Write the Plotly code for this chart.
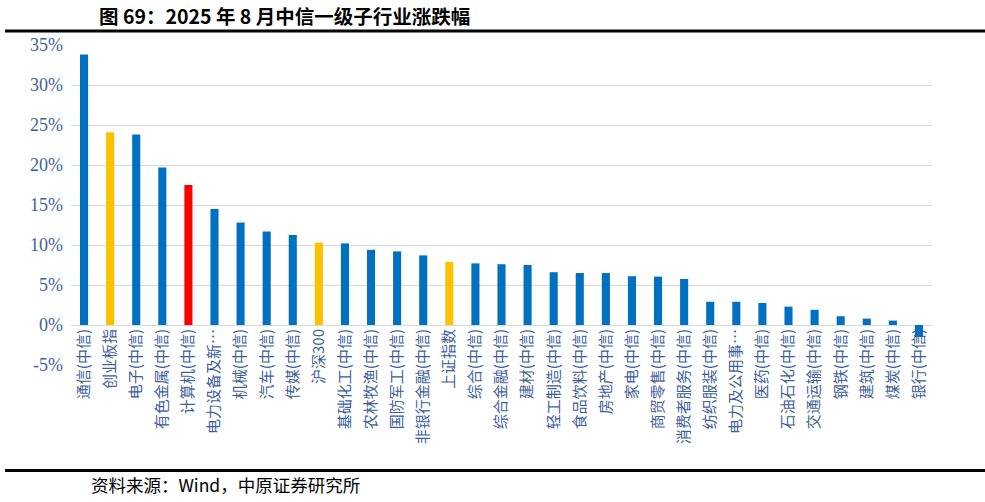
import plotly.graph_objects as go

categories = ["通信(中信)", "创业板指", "电子(中信)", "有色金属(中信)", "计算机(中信)", "电力设备及新…",
              "机械(中信)", "汽车(中信)", "传媒(中信)", "沪深300", "基础化工(中信)", "农林牧渔(中信)",
              "国防军工(中信)", "非银行金融(中信)", "上证指数", "综合(中信)", "综合金融(中信)", "建材(中信)",
              "轻工制造(中信)", "食品饮料(中信)", "房地产(中信)", "家电(中信)", "商贸零售(中信)",
              "消费者服务(中信)", "纺织服装(中信)", "电力及公用事…", "医药(中信)", "石油石化(中信)",
              "交通运输(中信)", "钢铁(中信)", "建筑(中信)", "煤炭(中信)", "银行(中信)"]
values = [33.8, 24.1, 23.8, 19.7, 17.5, 14.5, 12.8, 11.7, 11.25, 10.3, 10.2, 9.4,
          9.2, 8.7, 7.9, 7.7, 7.6, 7.5, 6.6, 6.5, 6.5, 6.1, 6.05,
          5.75, 2.9, 2.9, 2.75, 2.3, 1.9, 1.1, 0.8, 0.55, -1.5]
highlight = {"创业板指": "#FFC000", "沪深300": "#FFC000", "上证指数": "#FFC000", "计算机(中信)": "#FF0000"}
colors = [highlight.get(c, "#0070C0") for c in categories]

tick_vals = [-5, 0, 5, 10, 15, 20, 25, 30, 35]
tick_text = ["-5%", "0%", "5%", "10%", "15%", "20%", "25%", "30%", "35%"]

title_text = "<b>图 69：2025 年 8 月中信一级子行业涨跌幅</b>"
source_text = "资料来源：Wind，中原证券研究所"

W, H = 985, 502
# plot area in page pixels: x 71..932, y 45..365
L, T = 71, 45
R, B = W - 932, H - 365
pw, ph = W - L - R, H - T - B
def px(x):
    return (x - L) / pw
def py(y):
    return (H - B - y) / ph

label_color = "#3F5F9A"

fig = go.Figure(go.Bar(x=categories, y=values, marker=dict(color=colors, line=dict(width=0)),
                       width=0.31))

fig.update_layout(
    width=W, height=H,
    margin=dict(l=L, r=R, t=T, b=B),
    paper_bgcolor="white", plot_bgcolor="white",
    showlegend=False,
    yaxis=dict(range=[-5, 35], tickvals=tick_vals, ticktext=tick_text,
               showgrid=True, gridcolor="#D9D9D9", gridwidth=1,
               zeroline=True, zerolinecolor="#D9D9D9", zerolinewidth=1,
               showline=False, ticks="", ticklabelstandoff=7,
               tickfont=dict(family="'Liberation Serif', 'Times New Roman', serif", size=18,
                             color=label_color)),
    xaxis=dict(anchor="free", position=5 / 40, showline=False, ticks="",
               tickangle=-90, showgrid=False,
               tickfont=dict(family="Noto Sans CJK SC", size=15, color=label_color)),
    shapes=[
        dict(type="line", xref="paper", yref="paper", x0=px(5), x1=px(990), y0=py(31), y1=py(31),
             line=dict(color="black", width=3)),
        dict(type="line", xref="paper", yref="paper", x0=px(5), x1=px(990), y0=py(470.5), y1=py(470.5),
             line=dict(color="black", width=3)),
    ],
    annotations=[
        dict(text=title_text, xref="paper", yref="paper", x=px(97), y=py(15), xanchor="left",
             yanchor="middle", showarrow=False,
             font=dict(family="Noto Sans CJK SC", size=19.5, color="black")),
        dict(text=source_text, xref="paper", yref="paper", x=px(89), y=py(484), xanchor="left",
             yanchor="middle", showarrow=False,
             font=dict(family="Noto Sans CJK SC", size=17.5, color="black")),
    ],
)

fig.write_html("out.html", config={"displayModeBar": False},
               post_script="document.body.style.margin='0px';document.body.style.overflow='hidden';")
